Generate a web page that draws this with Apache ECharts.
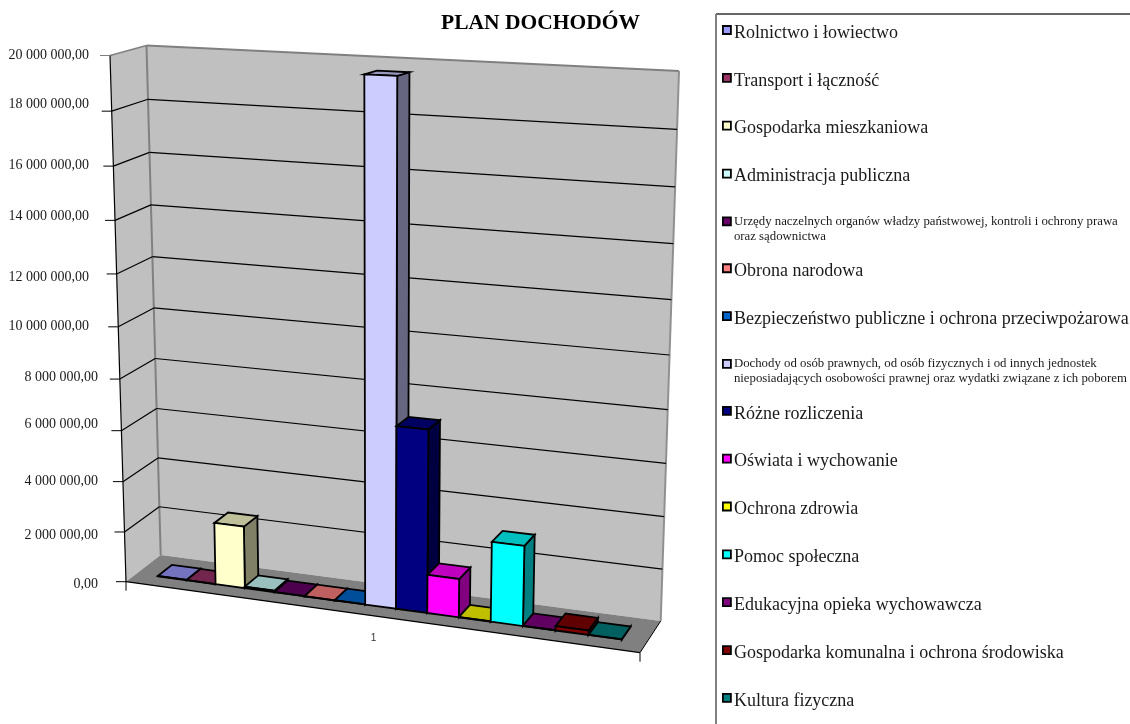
<!DOCTYPE html>
<html><head><meta charset="utf-8">
<style>html,body{margin:0;padding:0;background:#fff}#c{width:1130px;height:724px}</style>
<script src="https://cdn.jsdelivr.net/npm/echarts@6/dist/echarts.min.js"></script>
</head><body><div id="c"></div>
<script>
const categories = ['1'];
const names = ['Rolnictwo i łowiectwo','Transport i łączność','Gospodarka mieszkaniowa','Administracja publiczna',
 'Urzędy naczelnych organów władzy państwowej, kontroli i ochrony prawa\noraz sądownictwa','Obrona narodowa',
 'Bezpieczeństwo publiczne i ochrona przeciwpożarowa',
 'Dochody od osób prawnych, od osób fizycznych i od innych jednostek\nnieposiadających osobowości prawnej oraz wydatki związane z ich poborem',
 'Różne rozliczenia','Oświata i wychowanie','Ochrona zdrowia','Pomoc społeczna','Edukacyjna opieka wychowawcza',
 'Gospodarka komunalna i ochrona środowiska','Kultura fizyczna'];
const values = [15000,5000,2450000,60000,5000,1000,5000,19600000,7000000,1480000,10000,3050000,10000,170000,5000];
const colors = ['#9999FF','#993366','#FFFFCC','#CCFFFF','#660066','#FF8080','#0066CC','#CCCCFF','#000080','#FF00FF','#FFFF00','#00FFFF','#800080','#800000','#008080'];
const yTicks = [0,2000000,4000000,6000000,8000000,10000000,12000000,14000000,16000000,18000000,20000000];
const yLabels = ['0,00','2 000 000,00','4 000 000,00','6 000 000,00','8 000 000,00','10 000 000,00','12 000 000,00','14 000 000,00','16 000 000,00','18 000 000,00','20 000 000,00'];
// vertical nudge of each tick label, as drawn in the source picture
const labelNudge = [2,6,5,0,6,8,12,3,5,-3,0];

// perspective frame: front plane and back wall, corners TL, TR, BR, BL
const frontQuad = [[110,55.5],[659,78],[640,652.7],[126,581.7]];
const backQuad  = [[146.5,45.5],[679,71],[660.7,621],[160.7,555]];
function solveH(q){
  const [[x0,y0],[x1,y1],[x2,y2],[x3,y3]] = q;
  const dx1=x1-x2,dx2=x3-x2,sx=x0-x1+x2-x3,dy1=y1-y2,dy2=y3-y2,sy=y0-y1+y2-y3;
  const det=dx1*dy2-dx2*dy1,g=(sx*dy2-dx2*sy)/det,h=(dx1*sy-sx*dy1)/det;
  return [x1-x0+g*x1,x3-x0+h*x3,x0,y1-y0+g*y1,y3-y0+h*y3,y0,g,h];
}
const HF=solveH(frontQuad),HB=solveH(backQuad);
function ap(H,u,v){const d=H[6]*u+H[7]*v+1;return [(H[0]*u+H[1]*v+H[2])/d,(H[3]*u+H[4]*v+H[5])/d];}
// u: 0..1 across, t: 0..1 up, w: 0 front .. 1 back
function proj(u,t,w){const a=ap(HF,u,1-t),b=ap(HB,u,1-t);return [a[0]+(b[0]-a[0])*w,a[1]+(b[1]-a[1])*w];}
function shade(hex,f){const n=parseInt(hex.slice(1),16);return 'rgb('+[(n>>16)&255,(n>>8)&255,n&255].map(c=>Math.round(c*f)).join(',')+')';}
function poly(pts,fill,stroke,lw){return {type:'polygon',shape:{points:pts},style:{fill:fill,stroke:stroke||null,lineWidth:lw||0}};}
function line(a,b,stroke,lw){return {type:'line',shape:{x1:a[0],y1:a[1],x2:b[0],y2:b[1]},style:{stroke:stroke,lineWidth:lw,fill:null}};}

const BAR_START=0.045,BAR_STEP=0.0607,W0=0.31,W1=0.72;
function renderFrame(params,api){
  const cs=params.coordSys,y0=cs.y+cs.height;
  const t=(y0-api.coord([0,api.value(0)])[1])/cs.height;
  const ch=[];
  if(params.dataIndex===0){
    ch.push(poly([proj(0,0,0),proj(0,1,0),proj(0,1,1),proj(0,0,1)],'#C0C0C0'));
    ch.push(poly([proj(0,0,1),proj(0,1,1),proj(1,1,1),proj(1,0,1)],'#C0C0C0'));
    ch.push(poly([proj(0,0,0),proj(0,0,1),proj(1,0,1),proj(1,0,0)],'#808080'));
    ch.push(line(proj(0,1,0),proj(0,1,1),'#808080',1.5));
    ch.push(line(proj(0,1,1),proj(1,1,1),'#808080',2));
    ch.push(line(proj(0,0,1),proj(0,1,1),'#808080',2));
    ch.push(line(proj(1,0,1),proj(1,1,1),'#909090',2));
    ch.push(line(proj(0,0,0),proj(0,1,0),'#000',1.2));
    ch.push(line(proj(0,0,0),proj(1,0,0),'#000',1.2));
    ch.push(line(proj(1,0,0),proj(1,0,1),'#000',1));
    const a=proj(0,0,0),b=proj(1,0,0);
    ch.push(line(a,[a[0],a[1]+9],'#000',1));
    ch.push(line(b,[b[0],b[1]+9],'#000',1));
  }
  if(t>0&&t<1){
    ch.push(line(proj(0,t,0),proj(0,t,1),'#000',1.2));
    ch.push(line(proj(0,t,1),proj(1,t,1),'#000',1.2));
  }
  const f=proj(0,t,0);
  ch.push(line([f[0]-10,f[1]],f,t>=1?'#808080':'#000',1));
  return {type:'group',children:ch};
}
function renderBar(params,api){
  const cs=params.coordSys,i=params.seriesIndex-1,y0=cs.y+cs.height;
  const t=(y0-api.coord([0,api.value(1)])[1])/cs.height;
  const u0=BAR_START+BAR_STEP*i,u1=u0+BAR_STEP,c=colors[i];
  const A=proj(u0,0,W0),B=proj(u1,0,W0),C=proj(u1,t,W0),D=proj(u0,t,W0);
  const E=proj(u1,0,W1),F=proj(u1,t,W1),G=proj(u0,t,W1);
  const lw=1.8;
  return {type:'group',children:[
    poly([B,E,F,C],shade(c,.5),'#000',lw),
    poly([D,C,F,G],shade(c,.75),'#000',lw),
    poly([A,B,C,D],c,'#000',lw)
  ]};
}

const richY={};
yLabels.forEach((l,i)=>{
  const d=labelNudge[i],right=i>=5?9:0;
  richY['t'+i]={padding:[d>0?2*d:0,right,d<0?-2*d:0,0],fontSize:14,fontFamily:'Liberation Serif',color:'#1a1a1a'};
});

const option={
  animation:false,
  backgroundColor:'#fff',
  title:{text:'PLAN DOCHODÓW',left:441,top:12,padding:0,textStyle:{fontFamily:'Liberation Serif',fontWeight:'bold',fontSize:21.5,color:'#000'}},
  graphic:[
    {type:'line',shape:{x1:716,y1:14,x2:1130,y2:14},style:{stroke:'#333',lineWidth:1.5},z:0},
    {type:'line',shape:{x1:716,y1:14,x2:716,y2:724},style:{stroke:'#808080',lineWidth:2},z:0}
  ],
  legend:{
    orient:'vertical',left:722,top:7.5,width:600,height:900,
    padding:0,itemGap:2.85,itemWidth:8,itemHeight:8,
    icon:'rect',selectedMode:false,align:'left',
    itemStyle:{borderColor:'#000',borderWidth:1.8},
    formatter:(n)=>{
      const parts=n.split('\n');
      return parts.length>1
        ? '{gapS| }\n'+parts.map(p=>'{small|'+p+'}').join('\n')
        : '{gapN| }\n{big|'+n+'}\n{tail| }';
    },
    textStyle:{fontFamily:'Liberation Serif',fontSize:18,color:'#1a1a1a',padding:[0,0,0,-2],
      rich:{
        gapN:{lineHeight:18,height:18,fontSize:1},
        tail:{lineHeight:12,height:12,fontSize:1},
        gapS:{lineHeight:15,height:15,fontSize:1},
        big:{fontSize:18,lineHeight:15,fontFamily:'Liberation Serif',color:'#1a1a1a'},
        small:{fontSize:12.8,lineHeight:15,fontFamily:'Liberation Serif',color:'#1a1a1a'}
      }},
    data:names
  },
  grid:{left:117,width:513,top:55,height:527},
  xAxis:{type:'category',data:categories,
    axisLine:{show:false},axisTick:{show:false},splitLine:{show:false},
    axisLabel:{margin:51,fontFamily:'Liberation Sans',fontSize:10,color:'#333'}},
  yAxis:{type:'value',min:0,max:20000000,interval:2000000,
    axisLine:{show:false},axisTick:{show:false},splitLine:{show:false},
    axisLabel:{margin:19,formatter:(v)=>{const i=yTicks.indexOf(v);return '{t'+i+'|'+yLabels[i]+'}';},rich:richY}},
  series:[
    {type:'custom',name:'frame',silent:true,clip:false,renderItem:renderFrame,encode:{y:0},data:yTicks.map(v=>[v]),z:1},
    ...names.map((n,i)=>({type:'custom',name:n,silent:true,clip:false,renderItem:renderBar,itemStyle:{color:colors[i]},
      encode:{x:0,y:1},data:[[0,values[i]]],z:2}))
  ]
};
echarts.init(document.getElementById('c')).setOption(option);
</script></body></html>
